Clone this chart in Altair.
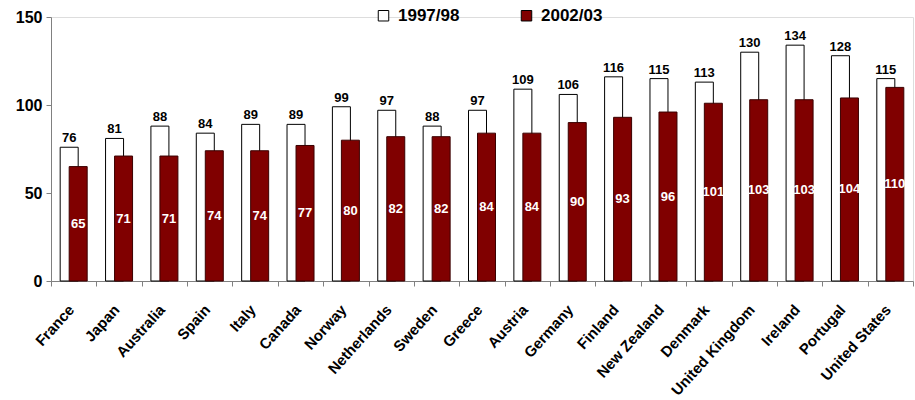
import altair as alt
import pandas as pd

countries = ["France", "Japan", "Australia", "Spain", "Italy", "Canada", "Norway",
             "Netherlands", "Sweden", "Greece", "Austria", "Germany", "Finland",
             "New Zealand", "Denmark", "United Kingdom", "Ireland", "Portugal",
             "United States"]
v_9798 = [76, 81, 88, 84, 89, 89, 99, 97, 88, 97, 109, 106, 116, 115, 113, 130, 134, 128, 115]
v_0203 = [65, 71, 71, 74, 74, 77, 80, 82, 82, 84, 84, 90, 93, 96, 101, 103, 103, 104, 110]
series = ["1997/98", "2002/03"]
colors = ["#ffffff", "#800000"]

rows = []
for c, a, b in zip(countries, v_9798, v_0203):
    rows.append({"country": c, "series": series[0], "value": a})
    rows.append({"country": c, "series": series[1], "value": b})
df = pd.DataFrame(rows)

FONT = "Liberation Sans"

x_enc = alt.X("country:N", sort=countries, title=None,
              scale=alt.Scale(paddingInner=0, paddingOuter=0),
              axis=alt.Axis(labelAngle=-48, labelFont=FONT, labelFontSize=15,
                            labelFontWeight="bold", labelColor="black",
                            labelAlign="right", labelBaseline="top", labelOffset=-8,
                            tickBand="extent", tickColor="#808080", tickSize=5,
                            domainColor="#808080", labelPadding=16))
y_enc = alt.Y("value:Q", title=None,
              scale=alt.Scale(domain=[0, 150], nice=False),
              axis=alt.Axis(values=[0, 50, 100, 150], grid=False, labelFont=FONT,
                            labelFontSize=16, labelFontWeight="bold", labelColor="black",
                            tickColor="#808080", tickSize=5, domainColor="#808080",
                            labelPadding=4))
fill_enc = alt.Fill("series:N", scale=alt.Scale(domain=series, range=colors),
                    legend=alt.Legend(title=None, orient="none", direction="horizontal",
                                      legendX=324, legendY=-10, symbolType="square",
                                      symbolSize=110, symbolStrokeColor="black",
                                      symbolStrokeWidth=1, labelFont=FONT,
                                      labelFontSize=17, labelFontWeight="bold",
                                      labelColor="black", columnPadding=58,
                                      labelOffset=6))

base = alt.Chart(df).encode(x=x_enc)

white_bars = base.transform_filter(alt.datum.series == series[0]).mark_bar(
    size=18, xOffset=-4.5, stroke="black", strokeWidth=1
).encode(y=y_enc, fill=fill_enc)

red_bars = base.transform_filter(alt.datum.series == series[1]).mark_bar(
    size=18, xOffset=4.5, stroke="#3a0000", strokeWidth=1
).encode(y=y_enc, fill=fill_enc)

white_labels = base.transform_filter(alt.datum.series == series[0]).mark_text(
    xOffset=-4.5, dy=-9, font=FONT, fontSize=13, fontWeight="bold", color="black"
).encode(y="value:Q", text="value:Q")

red_labels = base.transform_filter(alt.datum.series == series[1]).transform_calculate(
    mid="datum.value / 2"
).mark_text(
    xOffset=4.5, font=FONT, fontSize=13, fontWeight="bold", color="white", baseline="middle"
).encode(y="mid:Q", text="value:Q")

chart = alt.layer(white_bars, red_bars, white_labels, red_labels).properties(
    width=862, height=264,
    autosize=alt.AutoSizeParams(type="none"),
    padding={"left": 51, "top": 17, "right": 2, "bottom": 119},
).configure_view(stroke=None).configure(background="white")

chart.save("out.html", embed_options={"renderer": "svg", "actions": False})
